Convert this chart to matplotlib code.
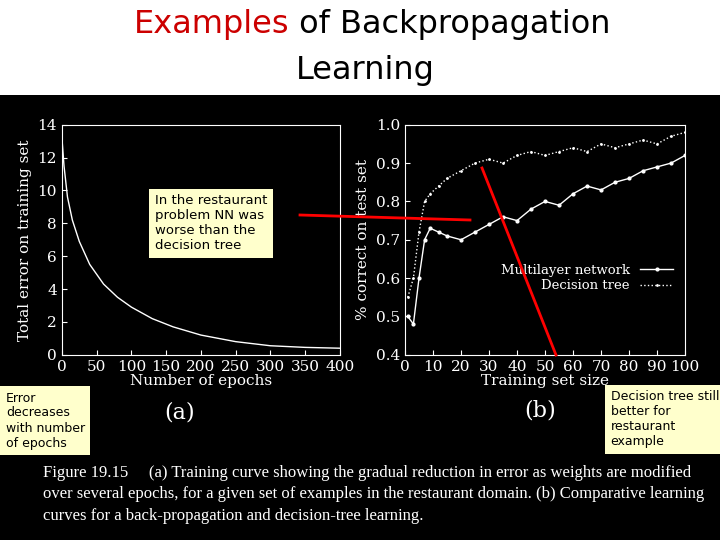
import matplotlib
matplotlib.use("Agg")
import matplotlib.pyplot as plt
from matplotlib.lines import Line2D

epochs = [0, 3, 8, 15, 25, 40, 60, 80, 100, 130, 160, 200, 250, 300, 350, 400]
error = [13.2, 11.5, 9.6, 8.2, 6.9, 5.5, 4.3, 3.5, 2.9, 2.2, 1.7, 1.2, 0.8, 0.55, 0.45, 0.4]

size = [1, 3, 5, 7, 9, 12, 15, 20, 25, 30, 35, 40, 45, 50, 55, 60, 65, 70, 75, 80, 85, 90, 95, 100]
multilayer = [0.5, 0.48, 0.6, 0.7, 0.73, 0.72, 0.71, 0.7, 0.72, 0.74, 0.76, 0.75, 0.78, 0.8, 0.79, 0.82, 0.84, 0.83, 0.85, 0.86, 0.88, 0.89, 0.9, 0.92]
decision = [0.55, 0.6, 0.72, 0.8, 0.82, 0.84, 0.86, 0.88, 0.9, 0.91, 0.9, 0.92, 0.93, 0.92, 0.93, 0.94, 0.93, 0.95, 0.94, 0.95, 0.96, 0.95, 0.97, 0.98]

fig = plt.figure(figsize=(7.2, 5.4), dpi=100)
fig.patch.set_facecolor("white")
bg = fig.add_axes([0, 0, 1, 0.825], zorder=-10)
bg.set_facecolor("black"); bg.set_xticks([]); bg.set_yticks([])
for s in bg.spines.values():
    s.set_visible(False)

fig.text(0.402, 0.955, "Examples", color="#cc0000", fontsize=23, ha="right", va="center")
fig.text(0.402, 0.955, " of Backpropagation", color="black", fontsize=23, ha="left", va="center")
fig.text(0.508, 0.87, "Learning", color="black", fontsize=23, ha="center", va="center")

def style(ax):
    ax.set_facecolor("black")
    for s in ax.spines.values():
        s.set_color("white")
    ax.tick_params(colors="white", labelsize=11, direction="in")
    for t in ax.get_xticklabels() + ax.get_yticklabels():
        t.set_family("serif")

ax1 = fig.add_axes([0.086, 0.343, 0.386, 0.426])
ax1.plot(epochs, error, color="white", lw=1)
ax1.set_xlim(0, 400); ax1.set_ylim(0, 14)
ax1.set_xticks(range(0, 401, 50)); ax1.set_yticks(range(0, 15, 2))
ax1.set_xlabel("Number of epochs", color="white", family="serif", fontsize=11, labelpad=0)
ax1.set_ylabel("Total error on training set", color="white", family="serif", fontsize=11)
style(ax1)

ax2 = fig.add_axes([0.5625, 0.343, 0.389, 0.426])
ax2.plot(size, multilayer, color="white", lw=1, marker="o", ms=2, label="Multilayer network")
ax2.plot(size, decision, color="white", lw=1, ls=":", marker=".", ms=2, label="Decision tree")
ax2.set_xlim(0, 100); ax2.set_ylim(0.4, 1)
ax2.set_xticks(range(0, 101, 10))
ax2.set_xlabel("Training set size", color="white", family="serif", fontsize=11, labelpad=0)
ax2.set_ylabel("% correct on test set", color="white", family="serif", fontsize=11)
leg = ax2.legend(loc="lower right", bbox_to_anchor=(1, 0.22), frameon=False, fontsize=9.5, handlelength=2.5,
                 labelspacing=0.2, markerfirst=False)
for t in leg.get_texts():
    t.set_color("white"); t.set_family("serif")
style(ax2)

fig.text(0.25, 0.225, "(a)", color="white", family="serif", fontsize=16, ha="center")
fig.text(0.75, 0.228, "(b)", color="white", family="serif", fontsize=16, ha="center")

box = dict(facecolor="#ffffcc", edgecolor="none", pad=4)
fig.text(0.215, 0.64, "In the restaurant\nproblem NN was\nworse than the\ndecision tree", fontsize=9.5, va="top", bbox=box)
fig.text(0.008, 0.275, "Error\ndecreases\nwith number\nof epochs", fontsize=9, va="top", bbox=box)
fig.text(0.848, 0.277, "Decision tree still\nbetter for\nrestaurant\nexample", fontsize=9, va="top", bbox=box)

fig.lines.append(Line2D([300/720, 470/720], [1-215/540, 1-220/540], color="red", lw=2, transform=fig.transFigure))
fig.lines.append(Line2D([482/720, 556/720], [1-168/540, 1-355/540], color="red", lw=2, transform=fig.transFigure))

cap = ("Figure 19.15     (a) Training curve showing the gradual reduction in error as weights are modified\n"
       "over several epochs, for a given set of examples in the restaurant domain. (b) Comparative learning\n"
       "curves for a back-propagation and decision-tree learning.")
fig.text(0.06, 0.03, cap, color="white", family="Liberation Serif", fontsize=12, va="bottom", linespacing=1.45)

fig.savefig("out.png", dpi=100, facecolor=fig.get_facecolor())
